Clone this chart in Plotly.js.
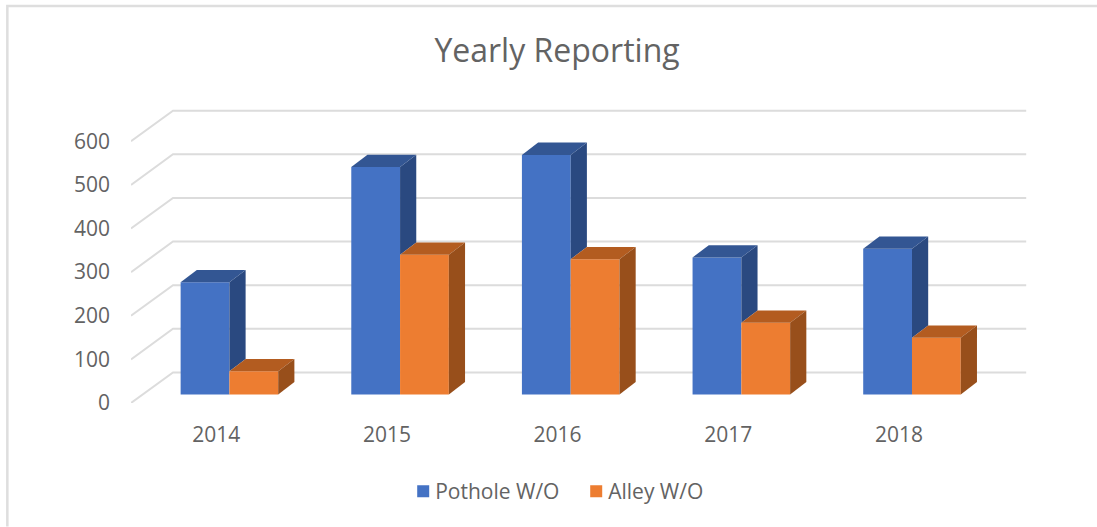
<!DOCTYPE html>
<html>
<head>
<meta charset="utf-8">
<script src="https://cdn.plot.ly/plotly-3.0.1.min.js"></script>
<style>html,body{margin:0;padding:0;background:#fff;overflow:hidden}</style>
</head>
<body>
<div id="chart" style="width:1097px;height:527px"></div>
<script>
const years = [2014, 2015, 2016, 2017, 2018];
const potholeValues = [257, 521, 549, 314, 334];
const alleyValues = [53, 320, 310, 164, 130];
const valueTicks = [0, 100, 200, 300, 400, 500, 600];
const seriesNames = ['Pothole W/O', 'Alley W/O'];

// Oblique projection, in axis units
const W = 1097, H = 527;
const M = {l: 130.7, r: 57, t: 100, b: 123.7};
const pxPerYear = 170.7, pxPerUnit = 0.4367;
const xMin = 2013.5, xMax = xMin + (W - M.l - M.r) / pxPerYear;
const yMax = (H - M.t - M.b) / pxPerUnit;
const wallDX = 42 / pxPerYear, wallDY = 30.6 / pxPerUnit;
const barDX = 16.2 / pxPerYear, barDY = 12.3 / pxPerUnit;
const floorLift = 8.6 / pxPerUnit;
const barW = 48.8 / pxPerYear, barShift = 13.1 / pxPerYear;
const wallEnd = xMin + wallDX + years.length;

const blue = '#4472C4', orange = '#ED7D31';
const blueTop = '#335693', blueSide = '#2A4980';
const orangeTop = '#B35C20', orangeSide = '#984F1B';
const textColor = '#636363';
const fontFamily = '"Open Sans", sans-serif';

function face(xs, ys, color) {
  return {x: xs, y: ys, type: 'scatter', mode: 'lines', fill: 'toself', fillcolor: color,
          line: {width: 0, color: color}, hoverinfo: 'skip', showlegend: false, cliponaxis: false};
}

const traces = [
  {type: 'bar', name: seriesNames[0], x: years, y: potholeValues, base: years.map(() => floorLift),
   width: years.map(() => barW), offset: years.map(() => barShift - barW),
   marker: {color: blue, line: {width: 0}}},
  {type: 'bar', name: seriesNames[1], x: years, y: alleyValues, base: years.map(() => floorLift),
   width: years.map(() => barW), offset: years.map(() => barShift),
   marker: {color: orange, line: {width: 0}}}
];

years.forEach((yr, i) => {
  const mid = yr + barShift, left = mid - barW, right = mid + barW;
  const p = potholeValues[i] + floorLift, a = alleyValues[i] + floorLift;
  // pothole side, down to where the alley top meets it
  traces.push(face([mid, mid + barDX, mid + barDX, mid, mid], [p, p + barDY, a + barDY, a, p], blueSide));
  // pothole top
  traces.push(face([left, left + barDX, mid + barDX, mid, left], [p, p + barDY, p + barDY, p, p], blueTop));
  // alley top
  traces.push(face([mid, mid + barDX, right + barDX, right, mid], [a, a + barDY, a + barDY, a, a], orangeTop));
  // alley side
  traces.push(face([right, right + barDX, right + barDX, right, right],
                   [a, a + barDY, floorLift + barDY, floorLift, a], orangeSide));
});

const gridShapes = valueTicks.map(v => ({
  type: 'path', xref: 'x', yref: 'y', layer: 'below',
  path: `M ${xMin} ${v} L ${xMin + wallDX} ${v + wallDY} L ${wallEnd} ${v + wallDY}`,
  line: {color: '#DCDCDC', width: 2}
}));

// Image frame: left and top edges only
const px = v => (v - M.l) / (W - M.l - M.r);
const py = v => 1 - (v - M.t) / (H - M.t - M.b);
const frameShape = {
  type: 'path', xref: 'paper', yref: 'paper', layer: 'below',
  path: `M ${px(7)} ${py(527)} L ${px(7)} ${py(6)} L ${px(1097)} ${py(6)}`,
  line: {color: '#DEDEDE', width: 2.5}
};

const layout = {
  width: W, height: H, margin: M, paper_bgcolor: '#fff', plot_bgcolor: 'rgba(0,0,0,0)',
  font: {family: fontFamily, color: textColor, size: 21},
  title: {text: 'Yearly Reporting', x: 557 / W, xanchor: 'center', xref: 'container', y: 1 - 51 / H, yanchor: 'middle',
          font: {family: fontFamily, size: 32, color: textColor}},
  barmode: 'overlay',
  xaxis: {range: [xMin, xMax], tickmode: 'array', tickvals: years, ticktext: years.map(String),
          showgrid: false, zeroline: false, showline: false, ticks: '', ticklabelstandoff: 17,
          fixedrange: true, tickfont: {size: 21}},
  yaxis: {range: [0, yMax], tickmode: 'array', tickvals: valueTicks, showgrid: false, zeroline: false,
          showline: false, ticks: '', ticklabelstandoff: 20, fixedrange: true, tickfont: {size: 21}},
  legend: {orientation: 'h', x: px(403), xanchor: 'left', y: py(492), yanchor: 'middle',
           entrywidth: 128, entrywidthmode: 'pixels',
           font: {size: 21, color: textColor}, bgcolor: 'rgba(0,0,0,0)'},
  shapes: gridShapes.concat([frameShape]),
  showlegend: true
};

Plotly.newPlot('chart', traces, layout, {displayModeBar: false, staticPlot: true}).then(gd => {
  // Office legends sit the label closer to the swatch than Plotly's default gap
  gd.querySelectorAll('.legend .legendtext').forEach(t => {
    t.setAttribute('x', parseFloat(t.getAttribute('x')) - 8);
  });
});
</script>
</body>
</html>
